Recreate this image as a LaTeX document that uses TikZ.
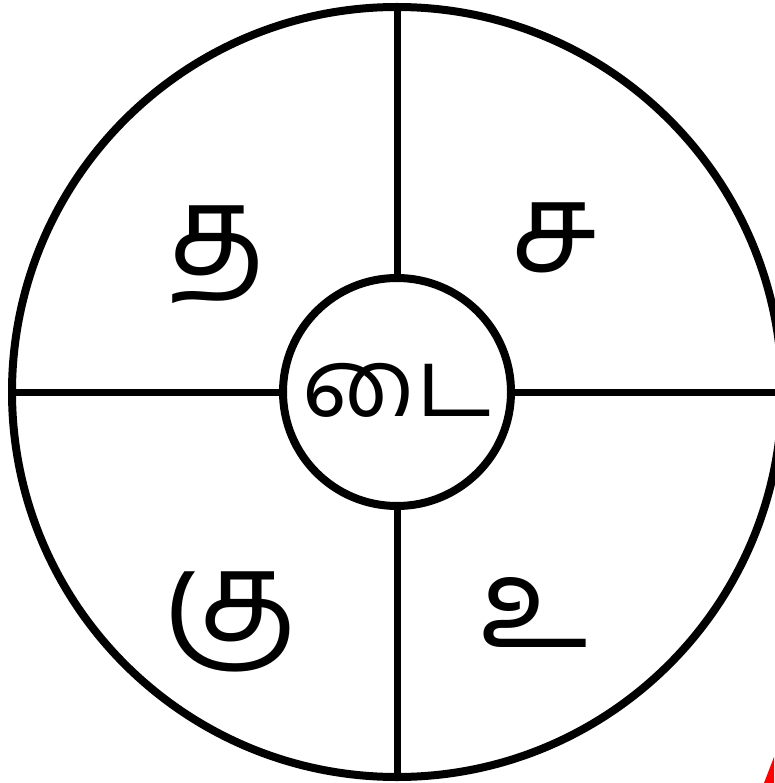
\documentclass[tikz,border=0pt]{standalone}
\usepackage{fontspec}
\newfontfamily\tamilfont[Script=Tamil]{Hind Madurai}
\begin{document}
\begin{tikzpicture}[x=1pt,y=-1pt,
  ring/.style={draw=black,line width=8pt},
  divider/.style={draw=black,line width=7pt},
  letter/.style={font=\tamilfont\fontsize{125}{130}\selectfont,inner sep=0pt},
  hub/.style={circle,draw=black,line width=8pt,minimum size=228pt,inner sep=0pt,fill=white}
]
\useasboundingbox (0,0) rectangle (774,783);
\fill[white] (0,0) rectangle (774,783);
\coordinate (c) at (397,392);
\coordinate (top) at (397,8);
\coordinate (bot) at (397,776);
\coordinate (lft) at (12,392);
\coordinate (rgt) at (782,392);
\draw[ring] (c) circle[radius=385];
\node[hub] (h) at (c) {};
\draw[divider] (top) -- (h.north);
\draw[divider] (h.south) -- (bot);
\draw[divider] (lft) -- (h.west);
\draw[divider] (h.east) -- (rgt);
\node[font=\tamilfont\fontsize{95}{100}\selectfont,inner sep=0pt] (ctr) at (397,390) {டை};
\node[letter] (tl) at (217,255) {த};
\node[letter] (tr) at (554,238) {ச};
\node[letter] (bl) at (230,622) {கு};
\node[letter] (br) at (534,612) {உ};
\fill[red] (764,783) -- (774,757) -- (774,783) -- cycle;
\end{tikzpicture}
\end{document}
